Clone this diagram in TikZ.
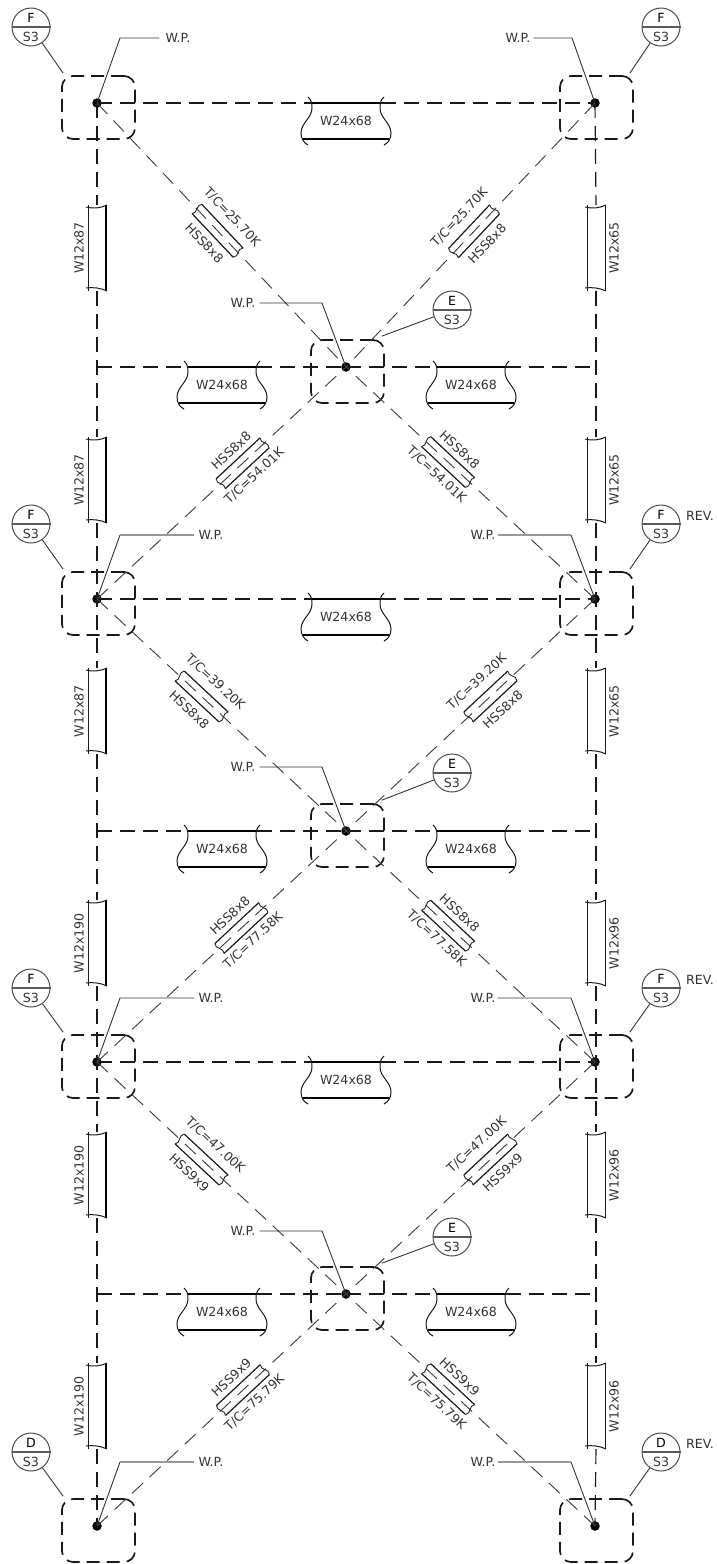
\documentclass[tikz,border=0pt]{standalone}
\usepackage{fontspec}
\setmainfont{DejaVu Sans}
\usetikzlibrary{calc}
\tikzset{
  lbl/.style={font=\fontsize{12.6}{14}\selectfont,text=black!80,inner sep=0pt},
  dotn/.style={circle,fill=black,inner sep=0pt,minimum size=9.5pt},
  colbox/.style={draw=black!90,line width=1.7pt,rounded corners=11pt,dash pattern=on 13pt off 7pt,minimum width=73pt,minimum height=63pt,inner sep=0pt},
  ghost/.style={inner sep=0pt,outer sep=0pt},
  bubble/.style={circle,draw=black!70,line width=1pt,minimum size=38pt,inner sep=0pt},
  divider/.style={draw=black!65,line width=1.3pt},
  gridline/.style={draw=black!90,line width=1.15pt,dash pattern=on 15pt off 8pt},
  bracew/.style={draw=black!75,line width=.95pt,dash pattern=on 15pt off 9pt},
  flange/.style={draw=black!90,line width=1pt},
  thickfl/.style={draw=black,line width=2.7pt},
  lead/.style={draw=black!80,line width=.9pt},
  leadg/.style={draw=black!40,line width=1.3pt},
}
% column section
\newcommand{\vsecn}[7]{% name,x,y,style,labelx,text
  \node[ghost,minimum width=18pt,minimum height=86pt] (#1) at (#2,#3) {};
  \node[lbl,rotate=90] (#1t) at (#5,#3) {#6};
  \draw[flange] (#1.north west) -- (#1.south west);
  \draw[#4] (#1.north east) -- (#1.south east);
  \draw[flange] ([xshift=-2pt,yshift=-2pt]#1.north west) .. controls ($(#1.north)+(-4,4)$) and ($(#1.north)+(4,3)$) .. ([xshift=1pt]#1.north east);
  \draw[flange] ([xshift=-2pt,yshift=3pt]#1.south west) .. controls ($(#1.south)+(-4,-4)$) and ($(#1.south)+(4,-3)$) .. ([xshift=1pt]#1.south east);
}
% beam section
\newcommand{\hsecn}[3]{% name,c,y
  \node[ghost,lbl,minimum width=69pt,minimum height=36pt] (#1) at (#2,#3+18) {W24x68};
  \draw[draw=black,line width=2.6pt] (#1.north west) -- (#1.north east);
  \foreach \sgn in {1,-1}{
    \begin{scope}[shift={(#1.north)},xscale=\sgn]
      \draw[flange] (-38,-6) .. controls (-35,-3) and (-34,-1) .. (-34,5) .. controls (-34,15) and (-45,20) .. (-45,30) .. controls (-45,36) and (-42,40) .. (-38,42);
    \end{scope}}
  \draw[draw=black,line width=2.2pt] ($(#1.north)+(-43,36)$) -- ($(#1.north)+(43,36)$);
}
% brace section
\newcommand{\dsecn}[9]{% name,a,b,t,angle,tc text,hss text,tc dist,hss dist
  \node[ghost,rotate=#5,minimum width=60pt,minimum height=13.5pt] (#1) at ($(#2)!#4!(#3)$) {};
  \draw[draw=black!90,line width=1.2pt] (#1.north west) -- (#1.north east);
  \draw[draw=black!90,line width=1.2pt] (#1.south west) -- (#1.south east);
  \draw[draw=black!85,line width=.9pt] (#1.north west) to[bend right=35] (#1.west) to[bend left=35] (#1.south west);
  \draw[draw=black!85,line width=.9pt] (#1.north east) to[bend right=35] (#1.east) to[bend left=35] (#1.south east);
  \node[lbl,rotate=#5] (#1a) at ($(#1.center)!#8pt!90:(#1.east)$) {T/C=#6K};
  \node[lbl,rotate=#5] (#1b) at ($(#1.center)!#9pt!90:(#1.east)$) {#7};
}
% section bubble
\newcommand{\bubblen}[4]{% name,x,y,letter
  \node[bubble] (#1) at (#2,#3) {};
  \draw[divider] (#1.west) -- (#1.east);
  \node[lbl,text=black] (#1u) at (#2,#3-9.5) {#4};
  \node[lbl] (#1d) at (#2,#3+10) {S3};
}
\begin{document}
\begin{tikzpicture}[x=1pt,y=-1pt]
\useasboundingbox (0,0) rectangle (717,1564);
% joints
\node[dotn] (L1) at (97,103) {};
\node[dotn] (L2) at (97,599) {};
\node[dotn] (L3) at (97,1062) {};
\node[dotn] (L4) at (97,1526) {};
\node[dotn] (R1) at (595,103) {};
\node[dotn] (R2) at (595,599) {};
\node[dotn] (R3) at (595,1062) {};
\node[dotn] (R4) at (595,1526) {};
\node[dotn] (C1) at (346,367) {};
\node[dotn] (C2) at (346,831) {};
\node[dotn] (C3) at (346,1294) {};
\coordinate (LC1) at (97,367);
\coordinate (LC2) at (97,831);
\coordinate (LC3) at (97,1294);
\coordinate (RC1) at (595,367);
\coordinate (RC2) at (595,831);
\coordinate (RC3) at (595,1294);
% boxes
\foreach \n/\x/\y in {L1/97/103,L2/97/599,L3/97/1062,L4/97/1526,R1/595/103,R2/595/599,R3/595/1062,R4/595/1526,C1/346/367,C2/346/831,C3/346/1294}{
  \node[colbox] (box\n) at (\x+1.5,\y+4.5) {};
}
% columns
\vsecn{VL1}{97}{248}{thickfl}{79}{W12x87}{}
\vsecn{VL2}{97}{480}{thickfl}{79}{W12x87}{}
\vsecn{VL3}{97}{711}{thickfl}{79}{W12x87}{}
\vsecn{VL4}{97}{943}{thickfl}{79}{W12x190}{}
\vsecn{VL5}{97}{1175}{thickfl}{79}{W12x190}{}
\vsecn{VL6}{97}{1406}{thickfl}{79}{W12x190}{}
\vsecn{VR1}{596}{248}{flange}{614}{W12x65}{}
\vsecn{VR2}{596}{480}{flange}{614}{W12x65}{}
\vsecn{VR3}{596}{711}{flange}{614}{W12x65}{}
\vsecn{VR4}{596}{943}{flange}{614}{W12x96}{}
\vsecn{VR5}{596}{1175}{flange}{614}{W12x96}{}
\vsecn{VR6}{596}{1406}{flange}{614}{W12x96}{}
\draw[gridline] (L1.center) -- (VL1.north);
\draw[gridline] (VL1.south) -- (VL2.north);
\draw[gridline] (VL2.south) -- (VL3.north);
\draw[gridline] (VL3.south) -- (VL4.north);
\draw[gridline] (VL4.south) -- (VL5.north);
\draw[gridline] (VL5.south) -- (VL6.north);
\draw[gridline] (VL6.south) -- (L4.center);
\draw[gridline] (R1.center) -- (VR1.north);
\draw[gridline] (VR1.south) -- (VR2.north);
\draw[gridline] (VR2.south) -- (VR3.north);
\draw[gridline] (VR3.south) -- (VR4.north);
\draw[gridline] (VR4.south) -- (VR5.north);
\draw[gridline] (VR5.south) -- (VR6.north);
\draw[gridline] (VR6.south) -- (R4.center);
% beams
\hsecn{BT1}{346}{103}
\hsecn{BT2}{346}{599}
\hsecn{BT3}{346}{1062}
\foreach \i/\y in {1/367,2/831,3/1294}{
  \hsecn{BL\i}{222}{\y}
  \hsecn{BR\i}{471}{\y}
  \draw[gridline] (LC\i) -- (BL\i.north west);
  \draw[gridline] (BL\i.north east) -- (C\i.center);
  \draw[gridline] (C\i.center) -- (BR\i.north west);
  \draw[gridline] (BR\i.north east) -- (RC\i);
}
\foreach \i in {1,2,3}{
  \draw[gridline] (L\i.center) -- (BT\i.north west);
  \draw[gridline] (BT\i.north east) -- (R\i.center);
}
% braces
\foreach \a/\b in {L1/C1,R1/C1,L2/C1,R2/C1,L2/C2,R2/C2,L3/C2,R3/C2,L3/C3,R3/C3,L4/C3,R4/C3}{
  \draw[bracew] (\a.center) -- (\b.center);
}
\dsecn{D1}{L1.center}{C1.center}{.484}{-46.7}{25.70}{HSS8x8}{20}{-18}
\dsecn{D2}{R1.center}{C1.center}{.486}{46.7}{25.70}{HSS8x8}{20}{-18}
\dsecn{D3}{L2.center}{C1.center}{.585}{43}{54.01}{HSS8x8}{-17}{17}
\dsecn{D4}{R2.center}{C1.center}{.590}{-43}{54.01}{HSS8x8}{-17}{17}
\dsecn{D5}{L2.center}{C2.center}{.42}{-43}{39.20}{HSS8x8}{20}{-18}
\dsecn{D6}{R2.center}{C2.center}{.42}{43}{39.20}{HSS8x8}{20}{-18}
\dsecn{D7}{L3.center}{C2.center}{.58}{43}{77.58}{HSS8x8}{-17}{17}
\dsecn{D8}{R3.center}{C2.center}{.59}{-43}{77.58}{HSS8x8}{-17}{17}
\dsecn{D9}{L3.center}{C3.center}{.42}{-43}{47.00}{HSS9x9}{20}{-18}
\dsecn{D10}{R3.center}{C3.center}{.42}{43}{47.00}{HSS9x9}{20}{-18}
\dsecn{D11}{L4.center}{C3.center}{.586}{43}{75.79}{HSS9x9}{-17}{17}
\dsecn{D12}{R4.center}{C3.center}{.59}{-43}{75.79}{HSS9x9}{-17}{17}
% work point leaders
\node[lbl] (W1) at (178,38) {W.P.};
\coordinate (W1k) at (120,38);
\draw[lead] (L1.center) -- (W1k) -- ([xshift=-6pt]W1.west);
\node[lbl] (W2) at (518,38) {W.P.};
\coordinate (W2k) at (572,38);
\draw[lead] (R1.center) -- (W2k) -- ([xshift=3pt]W2.east);
\foreach \i/\y in {3/303,4/767,5/1231}{
  \node[lbl] (W\i) at (243,\y) {W.P.};
  \coordinate (W\i k) at (322,\y);
}
\draw[lead] (C1.center) -- (W3k) -- ([xshift=4pt]W3.east);
\draw[lead] (C2.center) -- (W4k) -- ([xshift=4pt]W4.east);
\draw[lead] (C3.center) -- (W5k) -- ([xshift=4pt]W5.east);
\foreach \i/\y in {6/535,7/998,8/1462}{
  \node[lbl] (W\i) at (211,\y) {W.P.};
  \coordinate (W\i k) at (120,\y);
  \node[lbl] (X\i) at (483,\y) {W.P.};
  \coordinate (X\i k) at (571,\y);
}
\draw[lead] (L2.center) -- (W6k);
\draw[leadg] (W6k) -- ([xshift=-4pt]W6.west);
\draw[lead] (R2.center) -- (X6k);
\draw[leadg] (X6k) -- ([xshift=2pt]X6.east);
\draw[lead] (L3.center) -- (W7k) -- ([xshift=-4pt]W7.west);
\draw[lead] (R3.center) -- (X7k) -- ([xshift=2pt]X7.east);
\draw[lead] (L4.center) -- (W8k);
\draw[leadg] (W8k) -- ([xshift=-4pt]W8.west);
\draw[lead] (R4.center) -- (X8k);
\draw[leadg] (X8k) -- ([xshift=2pt]X8.east);
% bubbles
\bubblen{F1}{31}{27}{F}
\bubblen{F2}{661}{27}{F}
\bubblen{F3}{31}{524}{F}
\bubblen{F4}{661}{524}{F}
\bubblen{F5}{31}{988}{F}
\bubblen{F6}{661}{988}{F}
\bubblen{F7}{31}{1452}{D}
\bubblen{F8}{661}{1452}{D}
\bubblen{E1}{452}{310}{E}
\bubblen{E2}{452}{773}{E}
\bubblen{E3}{452}{1237}{E}
\draw[lead] (F1) -- ([shift={(2,-2)}]boxL1.north west);
\draw[lead] (F2) -- ([shift={(-4,-2)}]boxR1.north east);
\draw[lead] (F3) -- ([shift={(2,-2)}]boxL2.north west);
\draw[lead] (F4) -- ([shift={(-4,-2)}]boxR2.north east);
\draw[lead] (F5) -- ([shift={(2,-2)}]boxL3.north west);
\draw[lead] (F6) -- ([shift={(-4,-2)}]boxR3.north east);
\draw[lead] (F7) -- ([shift={(2,-2)}]boxL4.north west);
\draw[lead] (F8) -- ([shift={(-4,-2)}]boxR4.north east);
\draw[lead] (E1) -- ([shift={(-3,-3)}]boxC1.north east);
\draw[lead] (E2) -- ([shift={(-3,-3)}]boxC2.north east);
\draw[lead] (E3) -- ([shift={(-3,-3)}]boxC3.north east);
\node[lbl] (rev1) at (700,516) {REV.};
\node[lbl] (rev2) at (700,980) {REV.};
\node[lbl] (rev3) at (700,1444) {REV.};
\end{tikzpicture}
\end{document}
